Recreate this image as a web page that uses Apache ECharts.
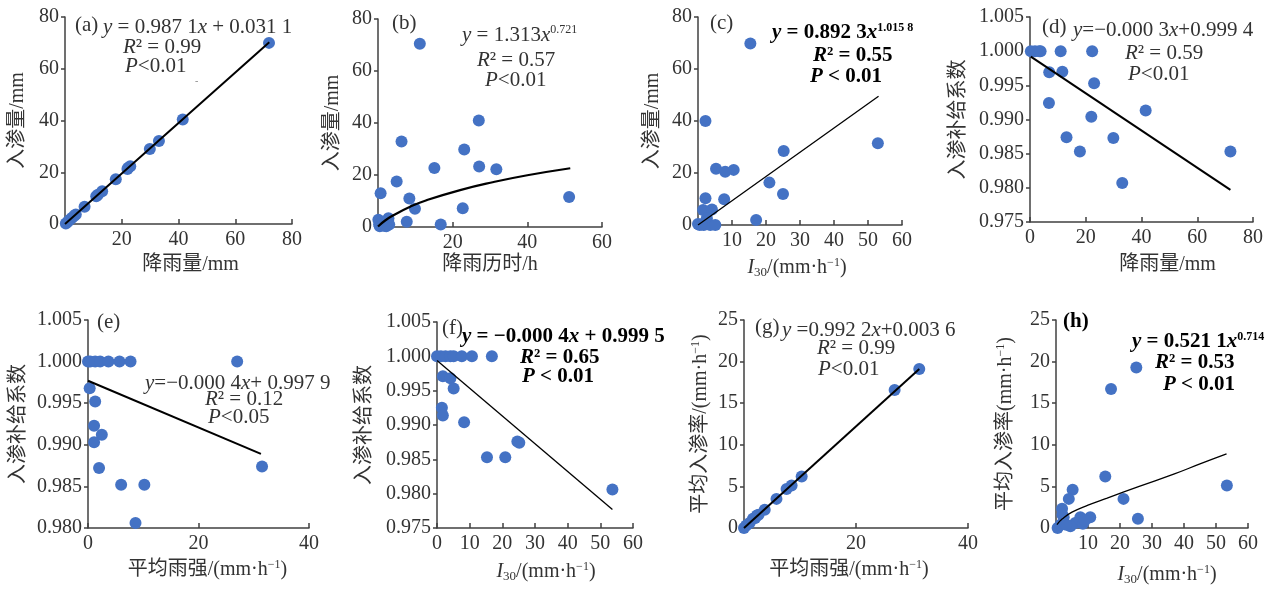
<!DOCTYPE html>
<html>
<head>
<meta charset="utf-8">
<script src="https://cdn.jsdelivr.net/npm/echarts@6/dist/echarts.min.js"></script>
<style>
  html, body { margin: 0; background: #fff; }
  #chart { width: 1277px; height: 589px; }
</style>
</head>
<body>
<div id="chart"></div>
<script>
// (a) 降雨量 - 入渗量
const aRain  = [0.3, 1.0, 1.8, 2.5, 3.3, 3.8, 6.9, 11.0, 11.6, 13.1, 17.9, 22.0, 22.3, 23.0, 29.9, 33.1, 41.5, 71.9];
const aInfil = [0.2, 0.9, 1.7, 2.4, 3.2, 3.7, 6.7, 10.7, 11.3, 12.7, 17.3, 21.3, 21.7, 22.3, 29.0, 32.1, 40.4, 70.0];
const aFitX = [0, 72];
const aFitY = [0, 70.2];
// (b) 降雨历时 - 入渗量
const bDur   = [11.2, 27.0, 6.3, 23.1, 15.1, 27.1, 31.7, 5.0, 0.7, 8.4, 51.2, 9.9, 22.7, 7.7, 16.8, 0.1, 2.8, 0.3, 3.0, 1.7, 0.5, 2.2];
const bInfil = [70.5, 41.0, 32.9, 29.8, 22.7, 23.3, 22.2, 17.5, 13.0, 11.0, 11.5, 7.0, 7.2, 2.0, 1.0, 2.8, 3.4, 1.0, 1.0, 0.5, 0.3, 0.3];
const bFitX = [0, 2, 4, 8.6, 13, 22, 31, 40, 51.5];
const bFitY = [0.2, 2.6, 4.4, 7.8, 10.3, 14.2, 17.3, 19.9, 22.6];
// (c) I30 - 入渗量
const cI30   = [15.4, 2.2, 52.9, 25.2, 5.3, 8.0, 10.5, 21.0, 25.0, 2.2, 7.7, 1.5, 4.1, 17.1, 2.6, 0.5, 1.7, 3.6, 5.1, 0.0, 1.0];
const cInfil = [69.8, 40.0, 31.4, 28.5, 21.6, 20.5, 21.2, 16.3, 11.9, 10.3, 9.9, 5.8, 6.0, 1.9, 2.6, 0.0, 0.0, 0.0, 0.0, 0.4, 0.3];
const cFitX = [0, 53.1];
const cFitY = [0, 49.5];
// (d) 降雨量 - 入渗补给系数
const dRain = [0.3, 1.8, 3.3, 3.8, 11.0, 22.3, 6.9, 11.6, 23.0, 6.8, 22.0, 41.5, 13.1, 29.9, 17.9, 33.1, 71.9];
const dCoef = [1.000, 1.000, 1.000, 1.000, 1.000, 1.000, 0.9969, 0.9970, 0.9953, 0.9924, 0.9904, 0.9913, 0.9874, 0.9873, 0.9853, 0.9807, 0.9853];
const dFitX = [0.3, 71.9];
const dFitY = [0.9992, 0.9797];
// (e) 平均雨强 - 入渗补给系数
const eMeanInt = [0.0, 0.4, 1.3, 2.2, 3.7, 5.7, 7.7, 27.0, 0.3, 1.3, 1.1, 2.5, 1.1, 2.0, 6.0, 10.2, 8.6, 31.5];
const eCoef    = [1.000, 1.000, 1.000, 1.000, 1.000, 1.000, 1.000, 1.000, 0.9968, 0.9952, 0.9923, 0.9912, 0.9903, 0.9872, 0.9852, 0.9852, 0.9806, 0.9874];
const eFitX = [0, 31.3];
const eFitY = [0.9977, 0.9889];
// (f) I30 - 入渗补给系数
const fI30  = [0.0, 1.2, 2.6, 4.1, 5.1, 7.6, 10.7, 16.8, 1.8, 4.1, 5.1, 1.5, 1.8, 8.3, 25.2, 24.6, 15.3, 20.9, 53.7];
const fCoef = [1.000, 1.000, 1.000, 1.000, 1.000, 1.000, 1.000, 1.000, 0.9971, 0.9968, 0.9953, 0.9925, 0.9914, 0.9904, 0.9874, 0.9876, 0.9853, 0.9853, 0.9806];
const fFitX = [0, 53.7];
const fFitY = [0.9994, 0.9777];
// (g) 平均雨强 - 平均入渗率
const gMeanInt = [31.3, 26.9, 10.3, 8.5, 7.6, 5.8, 3.7, 2.3, 1.6, 1.0, 0.4, 0.0, 2.0, 2.6];
const gRate    = [19.1, 16.6, 6.2, 5.1, 4.7, 3.5, 2.2, 1.5, 1.1, 0.6, 0.3, 0.0, 1.2, 1.6];
const gFitX = [0, 31.3];
const gFitY = [0, 19.1];
// (h) I30 - 平均入渗率
const hI30  = [25.1, 17.2, 15.4, 5.2, 4.0, 21.1, 53.4, 1.9, 10.7, 7.6, 25.6, 6.0, 8.4, 2.4, 4.5, 0.5, 1.4, 3.2, 2.0, 9.0];
const hRate = [19.3, 16.7, 6.2, 4.6, 3.5, 3.5, 5.1, 2.3, 1.3, 1.3, 1.1, 0.6, 0.5, 1.3, 0.2, 0.0, 0.4, 0.4, 1.6, 0.9];
const hFitX = [0.3, 2, 5, 10, 16, 26, 37, 45, 53.3];
const hFitY = [0.4, 1.1, 1.9, 2.75, 3.6, 5.0, 6.5, 7.7, 8.9];

// axis ranges [min, max, interval]
const xRanges = [[0, 80, 20], [0, 60, 20], [0, 60, 10], [0, 80, 20], [0, 40, 20], [0, 60, 10], [0, 40, 20], [0, 60, 10]];
const yRanges = [[0, 80, 20], [0, 80, 20], [0, 80, 20], [0.975, 1.005, 0.005], [0.980, 1.005, 0.005], [0.975, 1.005, 0.005], [0, 25, 5], [0, 25, 5]];

const FONT = "'Liberation Serif', 'Noto Sans CJK SC', serif";
const TXT = '#333';
const DOT = '#4472c4';
const NOTE_SIZE = 21;

const chart = echarts.init(document.getElementById('chart'));

const grids = [
  { left: 65,   top: 17,  width: 227, height: 207 },
  { left: 378,  top: 19,  width: 224, height: 208 },
  { left: 698,  top: 17,  width: 204, height: 208 },
  { left: 1030, top: 17,  width: 223, height: 205 },
  { left: 88,   top: 320, width: 221, height: 208 },
  { left: 437,  top: 322, width: 196, height: 206 },
  { left: 744,  top: 320, width: 224, height: 208 },
  { left: 1056, top: 320, width: 192, height: 208 }
];

const nameRich = {
  i: { fontStyle: 'italic', fontSize: 20, fontFamily: FONT, color: TXT, lineHeight: 22 },
  sub: { fontSize: 13, fontFamily: FONT, color: TXT, verticalAlign: 'bottom', lineHeight: 13 },
  sup: { fontSize: 12, fontFamily: FONT, color: TXT, verticalAlign: 'top', lineHeight: 12 }
};
const I30NAME = '{i|I}{sub|30}/(mm·h{sup|−1})';
const xNames = ['降雨量/mm', '降雨历时/h', I30NAME, '降雨量/mm', '平均雨强/(mm·h{sup|−1})', I30NAME, '平均雨强/(mm·h{sup|−1})', I30NAME];
const yNames = ['入渗量/mm', '入渗量/mm', '入渗量/mm', '入渗补给系数', '入渗补给系数', '入渗补给系数', '平均入渗率/(mm·h{sup|−1})', '平均入渗率(mm·h{sup|−1})'];
const xGaps = [30, 25, 32, 32, 31, 33, 31, 36];
const xOffs = [12, 0, -3, 26, 9, 11, -7, 15];
const yGaps = [36, 34, 34, 60, 58, 61, 32, 39];
const showXMin = [false, false, false, true, true, true, false, false];
const decimals = [0, 0, 0, 3, 3, 3, 0, 0];

const xAxes = xRanges.map((r, i) => ({
  type: 'value', gridIndex: i, min: r[0], max: r[1], interval: r[2],
  name: xNames[i], nameLocation: 'middle', nameGap: xGaps[i],
  nameTextStyle: {
    fontFamily: FONT, fontSize: 20, color: TXT, lineHeight: 22, rich: nameRich,
    padding: xOffs[i] >= 0 ? [0, 0, 0, 2 * xOffs[i]] : [0, -2 * xOffs[i], 0, 0]
  },
  axisLine: { show: true, lineStyle: { color: '#404040', width: 1.5 } },
  axisTick: { show: true, inside: true, length: 5, lineStyle: { color: '#404040', width: 1.5 } },
  axisLabel: { fontFamily: FONT, fontSize: 20, color: TXT, margin: 6, showMinLabel: showXMin[i] },
  splitLine: { show: false }
}));

const yAxes = yRanges.map((r, i) => ({
  type: 'value', gridIndex: i, min: r[0], max: r[1], interval: r[2],
  name: yNames[i], nameLocation: 'middle', nameGap: yGaps[i],
  nameTextStyle: { fontFamily: FONT, fontSize: 20, color: TXT, lineHeight: 22, rich: nameRich },
  axisLine: { show: true, lineStyle: { color: '#404040', width: 1.5 } },
  axisTick: { show: true, length: 4, lineStyle: { color: '#404040', width: 1.5 } },
  axisLabel: {
    fontFamily: FONT, fontSize: 20, color: TXT, margin: 6,
    formatter: v => v.toFixed(decimals[i])
  },
  splitLine: { show: false }
}));

function pairs(xs, ys) { return xs.map((x, k) => [x, ys[k]]); }
function dots(i, xs, ys) {
  return { type: 'scatter', xAxisIndex: i, yAxisIndex: i, data: pairs(xs, ys),
    symbolSize: 12, itemStyle: { color: DOT, opacity: 1 }, z: 2, silent: true };
}
function fit(i, xs, ys, w, smooth) {
  return { type: 'line', xAxisIndex: i, yAxisIndex: i, data: pairs(xs, ys), smooth: smooth,
    showSymbol: false, lineStyle: { color: '#000', width: w }, z: 3, silent: true };
}

const series = [
  dots(0, aRain, aInfil), fit(0, aFitX, aFitY, 2, false),
  dots(1, bDur, bInfil), fit(1, bFitX, bFitY, 2.2, true),
  dots(2, cI30, cInfil), fit(2, cFitX, cFitY, 1.3, false),
  dots(3, dRain, dCoef), fit(3, dFitX, dFitY, 2, false),
  dots(4, eMeanInt, eCoef), fit(4, eFitX, eFitY, 2, false),
  dots(5, fI30, fCoef), fit(5, fFitX, fFitY, 1.3, false),
  dots(6, gMeanInt, gRate), fit(6, gFitX, gFitY, 2, false),
  dots(7, hI30, hRate), fit(7, hFitX, hFitY, 1.3, true)
];

// 注释文字
function richOf(bold) {
  const col = bold ? '#000' : TXT;
  const w = bold ? 'bold' : 'normal';
  return {
    i: { fontStyle: 'italic', fontWeight: w, fontSize: NOTE_SIZE, fontFamily: FONT, fill: col, lineHeight: 22 },
    sup: { fontSize: 12, fontWeight: w, fontFamily: FONT, fill: col, verticalAlign: 'top', lineHeight: 12 }
  };
}
function note(x, y, text, bold) {
  return {
    type: 'text', x: x, y: y, silent: true,
    style: {
      text: text, fontFamily: FONT, fontSize: NOTE_SIZE, fontWeight: bold ? 'bold' : 'normal',
      fill: bold ? '#000' : TXT, align: 'left', verticalAlign: 'middle', lineHeight: 22,
      rich: richOf(bold)
    }
  };
}

const graphic = [
  note(75, 25, '(a)'),
  note(103, 27, '{i|y} = 0.987 1{i|x} + 0.031 1'),
  note(123, 47, '{i|R}² = 0.99'),
  note(125, 66, '{i|P}<0.01'),
  { type: 'text', x: 195, y: 81, silent: true, style: { text: '-', fontSize: 10, fill: '#888', fontFamily: FONT, verticalAlign: 'middle' } },

  note(392, 23, '(b)'),
  note(462, 35, '{i|y} = 1.313{i|x}{sup|0.721}'),
  note(477, 60, '{i|R}² = 0.57'),
  note(485, 80, '{i|P}<0.01'),

  note(710, 23, '(c)'),
  note(772, 33, '{i|y} = 0.892 3{i|x}{sup|1.015 8}', true),
  note(813, 56, '{i|R}² = 0.55', true),
  note(810, 77, '{i|P} < 0.01', true),

  note(1042, 27, '(d)'),
  note(1073, 30, '{i|y}=−0.000 3{i|x}+0.999 4'),
  note(1125, 53, '{i|R}² = 0.59'),
  note(1128, 74, '{i|P}<0.01'),

  note(97, 322, '(e)'),
  note(145, 383, '{i|y}=−0.000 4{i|x}+ 0.997 9'),
  note(205, 399, '{i|R}² = 0.12'),
  note(208, 417, '{i|P}<0.05'),

  note(442, 328, '(f)'),
  note(462, 337, '{i|y} = −0.000 4{i|x} + 0.999 5', true),
  note(520, 358, '{i|R}² = 0.65', true),
  note(522, 377, '{i|P} < 0.01', true),

  note(755, 327, '(g)'),
  note(782, 330, '{i|y} =0.992 2{i|x}+0.003 6'),
  note(817, 348, '{i|R}² = 0.99'),
  note(818, 369, '{i|P}<0.01'),

  note(1063, 322, '(h)', true),
  note(1132, 342, '{i|y} = 0.521 1{i|x}{sup|0.714}', true),
  note(1155, 363, '{i|R}² = 0.53', true),
  note(1163, 385, '{i|P} < 0.01', true)
];

chart.setOption({
  animation: false,
  backgroundColor: '#fff',
  grid: grids,
  xAxis: xAxes,
  yAxis: yAxes,
  series: series,
  graphic: graphic
});

window.addEventListener('resize', () => chart.resize());
</script>
</body>
</html>
